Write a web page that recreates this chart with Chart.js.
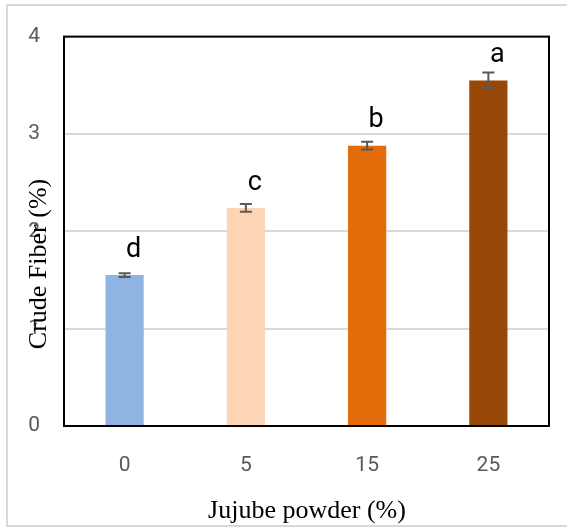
<!DOCTYPE html>
<html>
<head>
  <title>Crude Fiber</title>
  <style>
    body { margin: 0; background: #fff; }
    #wrap { width: 567px; height: 527px; position: relative; }
  </style>
  <script src="https://cdn.jsdelivr.net/npm/chart.js"></script>
</head>
<body>
  <div id="wrap"><canvas id="chart"></canvas></div>
  <script>
    const categories = ['0', '5', '15', '25'];
    const values = [1.55, 2.24, 2.88, 3.55];
    const errors = [0.02, 0.04, 0.04, 0.08];
    const letters = ['d', 'c', 'b', 'a'];
    const colors = ['#8FB4E3', '#FBD5B5', '#E36C0A', '#974806'];
    const yTicks = [0, 1, 2, 3, 4];

    const extras = {
      id: 'extras',
      beforeDraw(chart) {
        const ctx = chart.ctx;
        ctx.save();
        ctx.strokeStyle = '#d9d9d9';
        ctx.lineWidth = 2;
        ctx.strokeRect(7, 5, 600, 521);
        ctx.restore();
      },
      afterDraw(chart) {
        const ctx = chart.ctx;
        const y = chart.scales.y;
        const area = chart.chartArea;
        ctx.save();
        // plot border
        ctx.strokeStyle = '#000';
        ctx.lineWidth = 2;
        ctx.strokeRect(area.left, area.top, area.right - area.left, area.bottom - area.top);
        // error bars and letters
        const meta = chart.getDatasetMeta(0);
        meta.data.forEach((bar, i) => {
          const cx = bar.x;
          const yHi = y.getPixelForValue(values[i] + errors[i]);
          const yLo = y.getPixelForValue(values[i] - errors[i]);
          ctx.strokeStyle = '#595959';
          ctx.lineWidth = 2;
          ctx.beginPath();
          ctx.moveTo(cx, yHi); ctx.lineTo(cx, yLo);
          ctx.moveTo(cx - 6, yHi); ctx.lineTo(cx + 6, yHi);
          ctx.moveTo(cx - 6, yLo); ctx.lineTo(cx + 6, yLo);
          ctx.stroke();
          ctx.fillStyle = '#000';
          ctx.font = '27px Roboto';
          ctx.textAlign = 'center';
          ctx.textBaseline = 'middle';
          ctx.fillText(letters[i], cx + 9, y.getPixelForValue(values[i]) - 25);
        });
        // axis titles
        ctx.fillStyle = '#000';
        ctx.font = '26px "Liberation Serif"';
        ctx.textAlign = 'center';
        ctx.textBaseline = 'middle';
        ctx.fillText('Jujube powder (%)', 307, 511);
        ctx.translate(39, 264);
        ctx.rotate(-Math.PI / 2);
        ctx.fillText('Crude Fiber (%)', 0, 0);
        ctx.restore();
      }
    };

    new Chart(document.getElementById('chart'), {
      type: 'bar',
      data: {
        labels: categories,
        datasets: [{
          data: values,
          backgroundColor: colors,
          barPercentage: 0.315,
          categoryPercentage: 1
        }]
      },
      options: {
        responsive: true,
        maintainAspectRatio: false,
        animation: false,
        layout: { padding: { left: 0, right: 18, top: 36, bottom: 0 } },
        plugins: { legend: { display: false }, tooltip: { enabled: false } },
        scales: {
          x: {
            grid: { display: false, drawTicks: false },
            border: { display: false },
            ticks: { color: '#595959', font: { family: 'Roboto', size: 21 }, padding: 27 },
            afterFit(s) { s.height = 101; }
          },
          y: {
            min: 0, max: 4,
            afterBuildTicks(s) { s.ticks = yTicks.map(v => ({ value: v })); },
            grid: { color: '#d9d9d9', lineWidth: 2, drawTicks: false },
            border: { display: false },
            ticks: { color: '#595959', font: { family: 'Roboto', size: 21 }, padding: 24 },
            afterFit(s) { s.width = 64; }
          }
        }
      },
      plugins: [extras]
    });
  </script>
</body>
</html>
